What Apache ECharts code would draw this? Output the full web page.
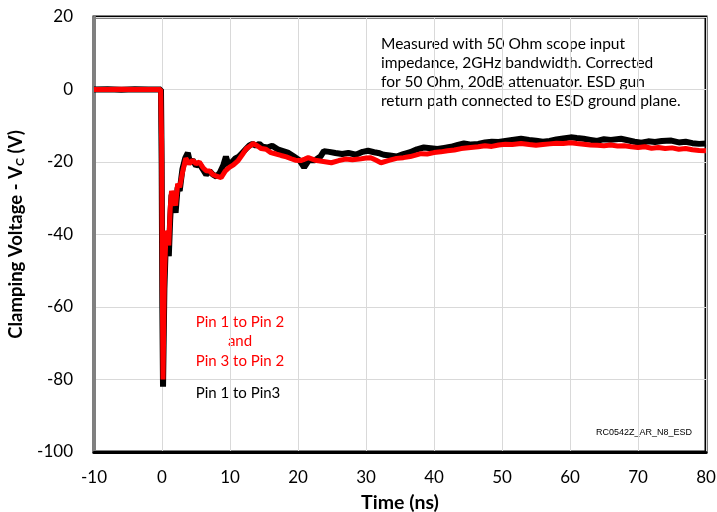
<!DOCTYPE html>
<html><head><meta charset="utf-8">
<script src="https://cdn.jsdelivr.net/npm/echarts@6/dist/echarts.min.js"></script>
<style>html,body{margin:0;padding:0;background:#fff}#c{width:717px;height:512px}</style>
</head><body><div id="c"></div>
<script>
const xTicks = [-10, 0, 10, 20, 30, 40, 50, 60, 70, 80];
const yTicks = [20, 0, -20, -40, -60, -80, -100];

const tBlack = [-10,-8,-6,-4,-2,-0.15,-0.05,0.05,0.15,0.35,0.6,0.8,1.0,1.2,1.4,1.7,2.0,2.3,2.6,3.0,3.4,3.8,4.1,4.5,5,5.5,6,6.5,7,7.5,8,8.5,9,9.4,9.8,10.3,10.8,11.3,11.8,12.3,12.8,13.3,13.8,14.3,14.8,15.5,16.2,17,17.8,18.6,19.4,20.2,20.9,21.6,22.5,23.3,23.8,24.6,25.5,26.5,27.4,28.5,29.5,30.3,31.2,32,32.6,33.5,34.5,35.5,36.5,37.5,38.5,39.5,40.5,41.5,42.5,43.5,44.4,45.5,46.5,47.5,48.5,49.5,50.5,51.5,52.8,54,55,56,57,58,59,60.1,61,62,63,64,65,66,67.5,68.5,69.5,70.5,71.5,72.5,73.5,74.9,76,77,78,79,80];
const vBlack = [0,0.1,-0.1,0.1,0,0,-20,-60,-82,-55,-40,-42,-46,-36,-29,-31,-34,-27,-28,-22,-19,-17.5,-20,-19.5,-21,-20.5,-22,-23.5,-22.5,-23.5,-24,-23,-21,-18.5,-21,-20,-19,-18.5,-17.5,-16.5,-15.5,-15,-15.5,-15,-15.8,-16,-15.5,-16.5,-17,-17.5,-18.5,-19.5,-21.5,-19.5,-19.5,-18.5,-17,-17.2,-17.5,-17.8,-17.5,-18,-17.2,-16.9,-17.3,-17.6,-18,-18.2,-18.5,-17.8,-17.3,-16.5,-16,-16.2,-16.4,-16.1,-15.8,-15.3,-14.9,-15.2,-15,-14.6,-14.4,-14.5,-14.2,-13.9,-13.6,-13.9,-14.1,-14.4,-14.2,-13.8,-13.5,-13.2,-13.4,-13.6,-13.9,-14.2,-13.7,-13.9,-13.6,-14,-14.4,-14.7,-14.3,-14.5,-14.2,-14.1,-14.6,-14.4,-14.8,-15,-14.9];

const tRed = [-10,-8,-6,-4,-2,-0.2,-0.05,0.05,0.15,0.35,0.6,0.8,1.0,1.2,1.4,1.7,2.0,2.3,2.6,3.0,3.5,4.0,4.5,5,5.5,6,6.5,7,7.5,7.9,8.7,9.3,9.9,10.5,11.2,11.8,12.4,13,13.4,14,14.6,15.3,16,16.8,17.5,18.3,19,19.6,20.4,21,21.5,22.5,23.5,24.9,26,27,28,29,30,30.7,31.5,32.2,33.5,34.5,35.5,36.5,37.3,38.1,39,40,41,42,43,44,45.4,46.5,47.5,48.5,49.5,50.5,51.5,52.8,54,55,56,57,58,59,60.1,61,62,63,64,65,66,67,68,69,70,71,72,73,74,75,76,77,78,79,80];
const vRed = [0,0,0.1,0,0,0,-15,-55,-80,-52,-39,-40,-43,-33,-28,-30,-32,-26,-27,-23,-19,-20.5,-19.5,-20.5,-20,-21.5,-22.4,-22.5,-23.5,-23.8,-24.3,-22.5,-21.5,-20.8,-19.6,-18,-16.3,-15.5,-14.9,-15.5,-16.3,-16.5,-17.4,-17.8,-18.2,-18.6,-19.1,-19.5,-19.6,-19.2,-18.8,-19.5,-19.8,-20.2,-19.6,-19.2,-19.4,-19.2,-18.9,-18.8,-19.5,-20.2,-19.5,-19,-18.8,-18.5,-18.1,-17.7,-17.8,-17.4,-17.2,-16.9,-16.7,-16.3,-16,-15.8,-15.5,-15.7,-15.3,-15.1,-15.2,-14.9,-15.2,-15.4,-15.2,-15,-14.8,-14.9,-14.7,-14.9,-15.1,-15.3,-15.4,-15.5,-15.3,-15.6,-15.5,-15.8,-16,-15.8,-16.2,-16,-16.3,-16.1,-16.5,-16.3,-16.6,-16.8,-16.9];

const noteLines = ['Measured with 50 Ohm scope input','impedance, 2GHz bandwidth. Corrected','for 50 Ohm, 20dB attenuator. ESD gun','return path connected to ESD ground plane.'];
const redLabel = ['Pin 1 to Pin 2','and','Pin 3 to Pin 2'];
const blackLabel = 'Pin 1 to Pin3';
const fileTag = 'RC0542Z_AR_N8_ESD';

const zip = (a, b) => a.map((x, i) => [x, b[i]]);
const chart = echarts.init(document.getElementById('c'));
const F = 'Lato, "Open Sans", sans-serif';
chart.setOption({
  animation: false,
  grid: { left: 94, right: 11, top: 17, bottom: 60, containLabel: false, outerBoundsMode: 'none', show: true, borderColor: '#000', borderWidth: 3, backgroundColor: '#fff' },
  xAxis: {
    type: 'value', min: -10, max: 80, interval: 10,
    name: 'Time (ns)', nameLocation: 'middle', nameGap: 41,
    nameTextStyle: { fontFamily: F, fontWeight: 'bold', fontSize: 19.5, color: '#000' },
    axisLine: { show: true, onZero: false, lineStyle: { color: '#000', width: 3 } },
    axisTick: { show: false },
    axisLabel: { fontFamily: F, fontSize: 17, color: '#000', margin: 17 },
    splitLine: { show: true, lineStyle: { color: '#d9d9d9', width: 1 } }
  },
  yAxis: {
    type: 'value', min: -100, max: 20, interval: 20,
    name: '{a|Clamping Voltage - V}{b|C}{a| (V)}', nameLocation: 'middle', nameGap: 65, nameRotate: 90,
    nameTextStyle: { rich: {
      a: { fontFamily: F, fontWeight: 'bold', fontSize: 18.5, color: '#000' },
      b: { fontFamily: F, fontWeight: 'bold', fontSize: 12, color: '#000', verticalAlign: 'bottom', padding: [8, 0, 0, 0] }
    } },
    axisLine: { show: true, onZero: false, lineStyle: { color: '#808080', width: 3 } },
    axisTick: { show: false },
    axisLabel: { fontFamily: F, fontSize: 17, color: '#000', margin: 21 },
    splitLine: { show: true, lineStyle: { color: '#d9d9d9', width: 1 } }
  },
  series: [
    { type: 'line', data: zip(tBlack, vBlack), showSymbol: false, lineStyle: { color: '#000', width: 6 }, z: 2 },
    { type: 'line', data: zip(tRed, vRed), showSymbol: false, lineStyle: { color: '#ff0000', width: 5 }, z: 3 }
  ],
  graphic: [
    { type: 'text', x: 381, y: 34, style: { text: noteLines.join('\n'), font: '15.5px ' + F, fill: '#000', lineHeight: 19 } },
    { type: 'text', x: 240, y: 312, style: { text: redLabel.join('\n'), font: '15px ' + F, fill: '#ff0000', lineHeight: 19.5, textAlign: 'center' } },
    { type: 'text', x: 238, y: 386, style: { text: blackLabel, font: '15px ' + F, fill: '#000', textAlign: 'center' } },
    { type: 'text', x: 692, y: 428, style: { text: fileTag, font: '9px Arial, "Liberation Sans", sans-serif', fill: '#000', textAlign: 'right' } }
  ]
});
</script></body></html>
